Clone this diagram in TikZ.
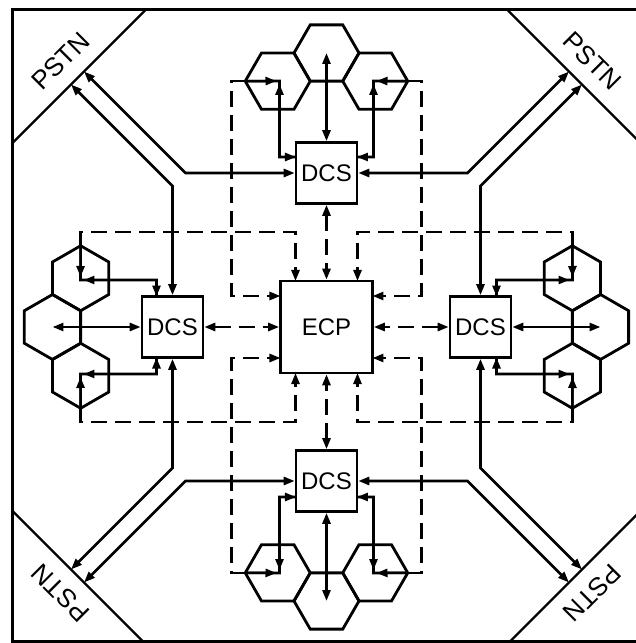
\documentclass[tikz,border=0pt]{standalone}
\usepackage{fontspec}
\setmainfont{Liberation Sans}
\usetikzlibrary{arrows.meta}
\tikzset{
  >={Triangle[length=11pt,width=8pt]},
  boxline/.style={line width=3pt},
  pstnline/.style={line width=2.4pt},
  hexcell/.style={line width=2.8pt, line join=miter},
  trunk/.style={line width=2.6pt},
  datalink/.style={line width=2.6pt, dash pattern=on 16pt off 8pt},
  switch/.style={draw, line width=2.6pt, minimum size=61pt, inner sep=0pt,
    font=\fontsize{24}{24}\selectfont},
  pstn/.style={inner sep=0pt, font=\fontsize{26}{26}\selectfont}
}
\begin{document}
\begin{tikzpicture}[x=1pt,y=1pt]
  \useasboundingbox (-326.5,-316) rectangle (309.5,327);

  % Frame and PSTN corners
  \draw[boxline] (-314,-314) rectangle (318,317.5);
  \begin{scope}
    \clip (-314,-314) rectangle (318,317.5);
    \foreach \a in {0,90,180,270}
      \draw[pstnline, rotate=\a] (-340,158) -- (-158,340);
  \end{scope}

  % Central processor
  \node[switch, minimum size=92pt] (ecp) at (0,0) {ECP};

  % One switch with its cells, repeated round the centre
  \foreach \a in {0,90,180,270}{
    \begin{scope}[rotate=\a]
      \node[pstn, rotate=45+\a] (pstn\a) at (-266,266) {PSTN};
      \coordinate (h0) at (0,274);
      \coordinate (h1) at (-48.75,245.85);
      \coordinate (h2) at (48.75,245.85);
      \foreach \h in {h0,h1,h2}
        \draw[hexcell] (\h) ++(0:32.5) -- ++(120:32.5) -- ++(180:32.5)
          -- ++(240:32.5) -- ++(300:32.5) -- ++(0:32.5) -- cycle;
      \node[switch] (dcs\a) at (0,154) {DCS};
      \draw[datalink, <->] (dcs\a) -- (ecp);
      \draw[trunk, <->] (dcs\a) -- (h0);
      \foreach \s in {1,-1}{
        \begin{scope}[xscale=\s]
          % Coordinates
          \coordinate (vx) at (-81.25,245.85);
          \coordinate (cs) at (-47,246);
          \coordinate (cb) at (-47,170);
          \coordinate (cp) at (-30.5,170);
          \coordinate (dk) at (-95,245.85);
          \coordinate (dl) at (-95,31);
          \coordinate (ep) at (-46,31);
          \coordinate (pt) at (-242.5,255.5);
          \coordinate (pb) at (-141,154);
          % Drawing
          \draw[datalink, ->] (vx) -- (dk) -- (dl) -- (ep);
          \draw[trunk] (vx) -- (cs) -- (cb) -- (cp);
          \draw[trunk, ->, shorten >=3pt] (vx) -- (cs);
          \draw[trunk, <->, shorten <=3pt] (cs) -- (cb) -- (cp);
          \draw[trunk, <->] (pt) -- (pb) -- (dcs\a);
        \end{scope}
      }
    \end{scope}
  }
\end{tikzpicture}
\end{document}
